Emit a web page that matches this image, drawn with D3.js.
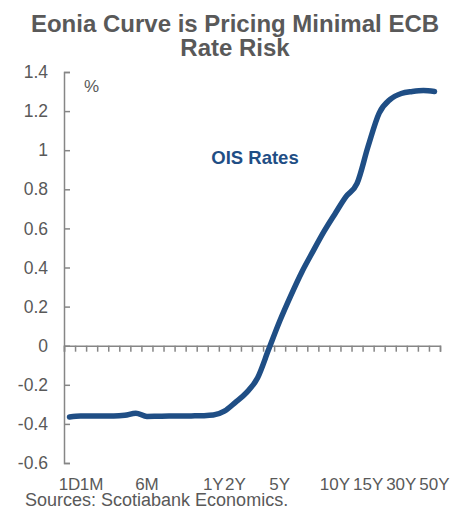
<!DOCTYPE html>
<html>
<head>
<meta charset="utf-8">
<script src="https://cdn.jsdelivr.net/npm/d3@7"></script>
<style>
	body { margin: 0; background: #fff; }
	svg text { font-family: "Liberation Sans", Arial, sans-serif; }
</style>
</head>
<body>
<svg id="chart" width="468" height="510"></svg>
<script>
"use strict";

// tenors on the category axis (only some of them get a label)
var tenors = ["1D","1W","1M","2M","3M","4M","5M","6M","7M","8M","9M","10M","11M",
	"1Y","18M","2Y","30M","3Y","4Y","5Y","6Y","7Y","8Y","9Y","10Y","11Y","12Y",
	"15Y","20Y","25Y","30Y","35Y","40Y","50Y"];
var shownTenors = ["1D","1M","6M","1Y","2Y","5Y","10Y","15Y","30Y","50Y"];

// OIS rates, %
var oisRates = [-0.365,-0.36,-0.36,-0.36,-0.36,-0.356,-0.345,-0.362,-0.361,-0.36,-0.36,-0.359,-0.358,
	-0.355,-0.335,-0.29,-0.24,-0.165,-0.02,0.125,0.255,0.376,0.481,0.583,0.674,0.762,0.83,
	1.02,1.19,1.26,1.29,1.30,1.305,1.30];

var yTicks = [-0.6,-0.4,-0.2,0,0.2,0.4,0.6,0.8,1,1.2,1.4];

var Chart = (function(){
	var grey = "#595959",
		axisGrey = "#868686",
		blue = "#1f4e85";

	function init(el) {
		var svg = d3.select("#"+el);
		var left = 64, right = 440, top = 72, bottom = 463;

		var x = d3.scaleBand().domain(tenors).range([left, right]);
		var xEdges = d3.scaleLinear().domain([0, tenors.length]).range([left, right]);
		var y = d3.scaleLinear().domain([-0.6, 1.4]).range([bottom, top]);

		// title
		svg.append("text")
			.attr("x", 235).attr("y", 32)
			.attr("text-anchor", "middle")
			.attr("font-size", 24).attr("font-weight", "bold")
			.attr("fill", grey)
			.selectAll("tspan")
			.data(["Eonia Curve is Pricing Minimal ECB", "Rate Risk"])
			.enter().append("tspan")
			.attr("x", 235)
			.attr("dy", function(d, i) { return i ? 24 : 0; })
			.text(function(d) { return d; });

		// y axis, ticks pointing in
		var yAxis = svg.append("g")
			.attr("transform", "translate(" + left + ",0)")
			.call(d3.axisLeft(y).tickValues(yTicks).tickSize(-6).tickPadding(16)
				.tickFormat(function(d) { return String(d); }));
		yAxis.selectAll("text").attr("font-size", 17.5).attr("fill", grey);

		// x axis on the zero line, ticks between categories
		var xAxis = svg.append("g")
			.attr("transform", "translate(0," + y(0) + ")")
			.call(d3.axisBottom(xEdges).tickValues(d3.range(tenors.length + 1))
				.tickSize(6).tickFormat(""));
		xAxis.selectAll("text").remove();

		[yAxis, xAxis].forEach(function(g) {
			g.select(".domain").attr("stroke", axisGrey).attr("stroke-width", 1.5);
			g.selectAll(".tick line").attr("stroke", axisGrey).attr("stroke-width", 1.5);
		});

		// category labels sit below the plot
		var xLabels = svg.append("g")
			.attr("transform", "translate(0," + bottom + ")")
			.call(d3.axisBottom(x).tickValues(shownTenors).tickSize(0).tickPadding(15));
		xLabels.select(".domain").remove();
		xLabels.selectAll("text").attr("font-size", 17).attr("fill", grey);

		svg.append("text")
			.attr("x", 84).attr("y", 92)
			.attr("font-size", 17).attr("fill", grey)
			.text("%");

		svg.append("text")
			.attr("x", 255).attr("y", 164)
			.attr("text-anchor", "middle")
			.attr("font-size", 18.5).attr("font-weight", "bold")
			.attr("fill", blue)
			.text("OIS Rates");

		var line = d3.line()
			.x(function(d, i) { return x(tenors[i]) + x.bandwidth() / 2; })
			.y(function(d) { return y(d); })
			.curve(d3.curveMonotoneX);

		svg.append("path")
			.datum(oisRates)
			.attr("d", line)
			.attr("fill", "none")
			.attr("stroke", blue)
			.attr("stroke-width", 5.5)
			.attr("stroke-linecap", "round")
			.attr("stroke-linejoin", "round");

		svg.append("text")
			.attr("x", 25).attr("y", 506)
			.attr("font-size", 18).attr("fill", grey)
			.text("Sources: Scotiabank Economics.");
	}

	return {
		"init": init
	};
}());

Chart.init("chart");
</script>
</body>
</html>
